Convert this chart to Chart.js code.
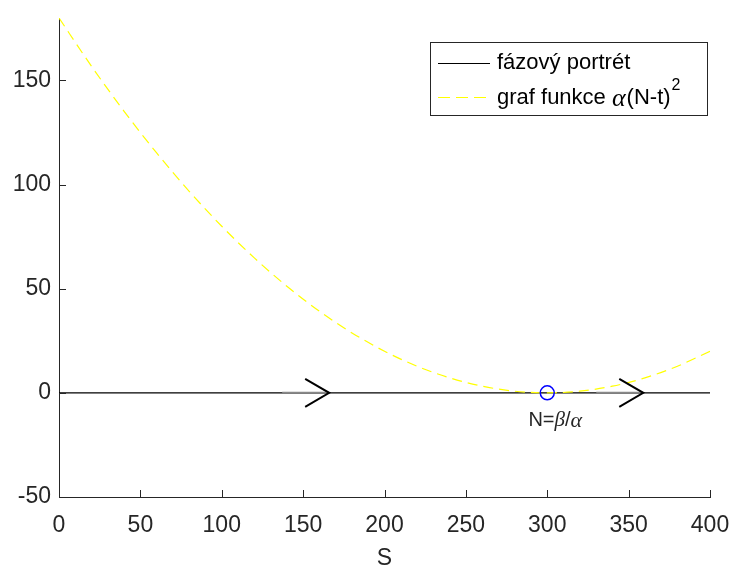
<!DOCTYPE html>
<html><head><meta charset="utf-8">
<script src="https://cdn.jsdelivr.net/npm/chart.js@4"></script>
<style>html,body{margin:0;padding:0;background:#fff}#wrap{width:731px;height:567px}</style>
</head><body><div id="wrap"><canvas id="c" width="731" height="567"></canvas></div>
<script>
const curveT = [0,20,40,60,80,100,120,140,160,180,200,220,240,260,280,300,320,340,360,380,400];
const curveY = [180,156.8,135.2,115.2,96.8,80,64.8,51.2,39.2,28.8,20,12.8,7.2,3.2,0.8,0,0.8,3.2,7.2,12.8,20];
const phaseX = [0,400];
const phaseY = [0,0];
const arrowX = [166,359];
const eqX = [300];
const eqY = [0];
const xTicks = [0,50,100,150,200,250,300,350,400];
const yTicks = [-50,0,50,100,150];
const xTitle = 'S';
const legendLabels = ['fázový portrét','graf funkce '];
const eqLabel = ['N=','β','/','α'];

const AX = '#262626';
const FONT = '"Liberation Sans", Arial, Helvetica, sans-serif';
const SERIF = '"Liberation Serif", "DejaVu Serif", serif';

const overlay = {
  id:'overlay',
  afterDatasetsDraw(chart){
    const ctx = chart.ctx, xs = chart.scales.x, ys = chart.scales.y, ca = chart.chartArea;
    ctx.save();
    // inward ticks
    ctx.strokeStyle = AX; ctx.lineWidth = 1;
    ctx.beginPath();
    xTicks.forEach(v=>{const p=Math.round(xs.getPixelForValue(v))+0.5; ctx.moveTo(p,ca.bottom); ctx.lineTo(p,ca.bottom-7);});
    yTicks.forEach(v=>{const p=Math.round(ys.getPixelForValue(v))+0.5; ctx.moveTo(ca.left,p); ctx.lineTo(ca.left+7,p);});
    ctx.stroke();
    // arrows
    arrowX.forEach(v=>{
      const px = xs.getPixelForValue(v), py = ys.getPixelForValue(0);
      ctx.strokeStyle='#888'; ctx.lineWidth=1.2;
      ctx.beginPath(); ctx.moveTo(px-47,py-0.5); ctx.lineTo(px,py-0.5); ctx.stroke();
      ctx.strokeStyle='#000'; ctx.lineWidth=2;
      ctx.beginPath(); ctx.moveTo(px-24,py-14); ctx.lineTo(px,py); ctx.lineTo(px-24,py+14); ctx.stroke();
    });
    // equilibrium label
    const ex = xs.getPixelForValue(eqX[0]), ey = ys.getPixelForValue(eqY[0]);
    ctx.fillStyle = AX; ctx.textBaseline='middle'; ctx.textAlign='left';
    const parts = [[eqLabel[0],'20px '+FONT],[eqLabel[1],'italic 21px '+SERIF],[eqLabel[2],'20px '+FONT],[eqLabel[3],'italic 22px '+SERIF]];
    let w=0; parts.forEach(p=>{ctx.font=p[1]; w+=ctx.measureText(p[0]).width;});
    let x = ex - w/2 + 8; const y = ey + 28;
    parts.forEach(p=>{ctx.font=p[1]; ctx.fillText(p[0],x,y); x+=ctx.measureText(p[0]).width;});
    // legend
    const lx=430.5, ly=42.5, lw=277, lh=73;
    ctx.fillStyle='#fff'; ctx.fillRect(lx,ly,lw,lh);
    ctx.strokeStyle=AX; ctx.lineWidth=1; ctx.strokeRect(lx,ly,lw,lh);
    ctx.strokeStyle='#000'; ctx.lineWidth=1;
    ctx.beginPath(); ctx.moveTo(438,63.5); ctx.lineTo(490,63.5); ctx.stroke();
    ctx.strokeStyle='#ffff00'; ctx.lineWidth=1.2; ctx.setLineDash([12,6]);
    ctx.beginPath(); ctx.moveTo(438,97.5); ctx.lineTo(490,97.5); ctx.stroke();
    ctx.setLineDash([]);
    ctx.fillStyle='#000'; ctx.font='22px '+FONT; ctx.textBaseline='middle';
    ctx.fillText(legendLabels[0],497,63);
    ctx.fillText(legendLabels[1],497,98);
    let tx = 497 + ctx.measureText(legendLabels[1]).width;
    ctx.font='italic 26px '+SERIF; ctx.fillText('α',tx,99); tx += ctx.measureText('α').width+1;
    ctx.font='22px '+FONT; ctx.fillText('(N-t)',tx,98); tx += ctx.measureText('(N-t)').width;
    ctx.font='16px '+FONT; ctx.fillText('2',tx+1,86);
    ctx.restore();
  }
};

new Chart(document.getElementById('c'),{
  type:'line',
  data:{datasets:[
    {data:phaseX.map((x,i)=>({x,y:phaseY[i]})),borderColor:'#000',borderWidth:1.2,pointRadius:0,order:2},
    {data:curveT.map((x,i)=>({x,y:curveY[i]})),borderColor:'#ffff00',borderWidth:1.2,borderDash:[10,6],pointRadius:0,cubicInterpolationMode:'monotone',order:1},
    {type:'scatter',data:eqX.map((x,i)=>({x,y:eqY[i]})),pointRadius:7,pointBorderColor:'#0000ff',pointBackgroundColor:'rgba(0,0,0,0)',pointBorderWidth:1.5,order:0}
  ]},
  options:{
    responsive:false,animation:false,
    layout:{padding:{top:18,right:21,left:0,bottom:0}},
    plugins:{legend:{display:false},tooltip:{enabled:false}},
    scales:{
      x:{type:'linear',min:0,max:400,
        afterBuildTicks(s){s.ticks=xTicks.map(v=>({value:v}));},
        afterFit(s){s.height=70; s.paddingLeft=0; s.paddingRight=0;},
        grid:{display:false,drawTicks:false},
        border:{display:true,color:AX,width:1},
        ticks:{color:AX,font:{family:FONT,size:23},padding:15,maxRotation:0},
        title:{display:true,text:xTitle,color:AX,font:{family:FONT,size:23},padding:{top:0,bottom:-5}}
      },
      y:{type:'linear',min:-50,max:180,
        afterBuildTicks(s){s.ticks=yTicks.map(v=>({value:v}));},
        afterFit(s){s.width=59; s.paddingTop=0; s.paddingBottom=0;},
        grid:{display:false,drawTicks:false},
        border:{display:true,color:AX,width:1},
        ticks:{color:AX,font:{family:FONT,size:23},padding:8}
      }
    }
  },
  plugins:[overlay]
});
</script></body></html>
